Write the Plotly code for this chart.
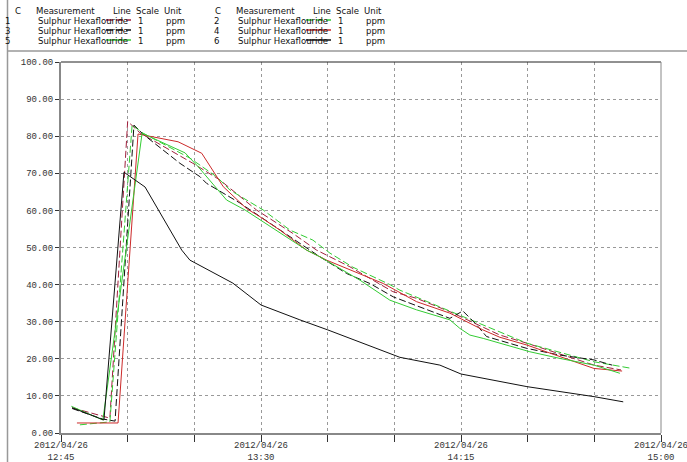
import plotly.graph_objects as go

DATE = "2012-04-26 "

# Series 1: Sulphur Hexaflouride (dark red, dashed)
s1_t = ["12:47:30", "12:54:15", "12:56:00", "13:00:00", "13:02:45", "13:14:40", "13:20:45",
        "13:29:00", "13:37:10", "13:42:30", "13:50:00", "13:59:40", "14:05:00", "14:12:30",
        "14:20:00", "14:23:45", "14:29:50", "14:44:55", "14:51:00"]
s1_v = [6.8, 4.5, 4.0, 84.0, 80.9, 72.7, 68.2, 60.1, 53.8, 49.3, 44.8, 38.1, 36.3, 32.7,
        28.5, 26.4, 24.2, 18.3, 17.0]

# Series 2: green, dashed
s2_t = ["12:49:15", "12:54:30", "12:56:00", "13:01:00", "13:03:30", "13:14:00", "13:20:05",
        "13:23:00", "13:30:30", "13:36:30", "13:41:40", "13:45:30", "13:50:40", "13:59:00",
        "14:01:15", "14:15:00", "14:29:50", "14:44:55", "14:53:00"]
s2_v = [2.2, 2.7, 3.0, 83.0, 80.8, 74.1, 69.0, 65.5, 60.1, 54.7, 52.0, 48.5, 44.7, 40.0,
        38.5, 31.6, 24.2, 19.2, 17.5]

# Series 3: black, dashed
s3_t = ["12:47:30", "12:54:15", "12:57:10", "13:01:25", "13:03:30", "13:11:45", "13:16:15",
        "13:17:45", "13:25:15", "13:34:15", "13:43:15", "13:49:15", "13:54:30", "13:59:45",
        "14:12:30", "14:15:25", "14:18:10", "14:20:45", "14:29:50", "14:37:15", "14:44:55",
        "14:49:00"]
s3_v = [6.6, 3.8, 3.2, 83.0, 80.5, 72.7, 69.1, 67.3, 62.0, 54.7, 47.5, 43.0, 40.3, 36.7,
        30.9, 32.9, 29.6, 26.0, 22.8, 21.0, 19.7, 18.3]

# Series 4: red, solid
s4_t = ["12:48:35", "12:57:50", "13:02:20", "13:11:20", "13:16:40", "13:21:30", "13:26:45",
        "13:29:45", "13:34:15", "13:40:15", "13:44:45", "13:49:15", "13:57:30", "14:05:00",
        "14:12:30", "14:19:55", "14:23:45", "14:29:50", "14:44:55", "14:51:15"]
s4_v = [2.7, 2.7, 80.6, 78.5, 75.4, 66.4, 60.5, 58.3, 54.7, 49.3, 46.6, 44.4, 40.3, 35.4,
        32.3, 27.8, 25.8, 23.7, 17.4, 16.7]

# Series 5: green, solid
s5_t = ["12:47:20", "12:54:25", "13:03:15", "13:12:55", "13:15:50", "13:22:15", "13:26:25",
        "13:40:15", "13:43:15", "13:52:15", "13:59:00", "14:05:00", "14:12:30", "14:14:45",
        "14:17:00", "14:20:00", "14:30:30", "14:37:15", "14:44:55", "14:50:45"]
s5_v = [7.2, 3.5, 80.8, 75.5, 71.8, 62.8, 60.1, 49.3, 47.5, 41.2, 35.8, 33.2, 30.5, 28.2,
        26.4, 25.5, 21.9, 20.1, 18.3, 16.1]

# Series 6: black, solid
s6_t = ["12:47:30", "12:54:40", "12:59:10", "13:03:55", "13:12:10", "13:14:00", "13:23:40",
        "13:30:00", "13:38:45", "13:45:00", "14:01:15", "14:10:15", "14:15:00", "14:20:00",
        "14:29:50", "14:44:55", "14:51:30"]
s6_v = [6.8, 3.5, 70.3, 66.3, 49.3, 46.6, 40.4, 34.5, 30.5, 27.8, 20.4, 18.3, 15.9, 14.8,
        12.5, 9.8, 8.4]

series = [
    ("1", s1_t, s1_v, "#a0203c", "7px,3px"),
    ("2", s2_t, s2_v, "#33cc33", "7px,3px"),
    ("3", s3_t, s3_v, "#111111", "7px,3px"),
    ("4", s4_t, s4_v, "#cc2a2a", "solid"),
    ("5", s5_t, s5_v, "#33cc33", "solid"),
    ("6", s6_t, s6_v, "#111111", "solid"),
]

measurement = "Sulphur Hexaflouride"
scale_txt = "1"
unit_txt = "ppm"

W, H = 687, 462
L, R, T, B = 61, 26, 62, 29
PW, PH = W - L - R, H - T - B

def px(x):
    return (x - L) / PW

def py(y):
    return (H - B - y) / PH

fig = go.Figure()
for name, ts, vs, col, dash in series:
    fig.add_trace(go.Scatter(
        x=[DATE + t for t in ts], y=vs, mode="lines", name=name,
        line=dict(color=col, width=1, dash=dash), showlegend=False))

mono = "Liberation Mono, DejaVu Sans Mono, monospace"
fig.update_xaxes(
    range=[DATE + "12:45:00", DATE + "15:00:00"],
    type="date", dtick=45 * 60 * 1000, tick0=DATE + "12:45:00",
    tickformat="%Y/%m/%d<br>%H:%M",
    ticks="outside", ticklen=7, tickcolor="#333", tickwidth=1,
    ticklabelstandoff=-5, ticklabeloverflow="allow",
    showline=True, linecolor="#888", linewidth=2,
    showgrid=True, gridcolor="#999", griddash="dot", gridwidth=1,
    minor=dict(dtick=15 * 60 * 1000, tick0=DATE + "12:45:00", ticks="outside",
               ticklen=7, tickcolor="#333", showgrid=True, gridcolor="#999",
               griddash="dot"),
    tickfont=dict(family=mono, size=9, color="#333"),
    zeroline=False, automargin=False,
)
fig.update_yaxes(
    range=[0, 100], dtick=10, tickformat=".2f",
    ticks="outside", ticklen=4, tickcolor="#333",
    showline=True, linecolor="#888", linewidth=2,
    showgrid=True, gridcolor="#999", griddash="dot", gridwidth=1,
    tickfont=dict(family=mono, size=9, color="#333"),
    zeroline=False, automargin=False,
)

shapes = [
    dict(type="line", xref="paper", yref="paper", x0=0, x1=1, y0=1, y1=1,
         line=dict(color="#222", width=1)),
    dict(type="line", xref="paper", yref="paper", x0=1, x1=1, y0=0, y1=1,
         line=dict(color="#888", width=1)),
    dict(type="line", xref="paper", yref="paper", x0=px(7.5), x1=px(7.5), y0=py(0), y1=py(H),
         line=dict(color="#999", width=1.5)),
    dict(type="line", xref="paper", yref="paper", x0=px(7.5), x1=px(W), y0=py(51), y1=py(51),
         line=dict(color="#999", width=1.5)),
]

sans = "Liberation Sans Narrow, DejaVu Sans Condensed, Liberation Sans, Arial, sans-serif"
ann = []

def text(x, y, s, anchor="left"):
    ann.append(dict(text=s, x=px(x), y=py(y), xref="paper", yref="paper",
                    showarrow=False, xanchor=anchor, yanchor="middle",
                    font=dict(family=sans, size=9.5, color="#111")))

header_y = 10
row_y = [20, 30, 40]
groups = [(13, 3, [series[0], series[2], series[4]]),
          (213, 212, [series[1], series[3], series[5]])]
for cx, dx, rows in groups:
    text(cx, header_y, "C")
    text(cx + 21, header_y, "Measurement")
    text(cx + 98, header_y, "Line")
    text(cx + 121, header_y, "Scale")
    text(cx + 149, header_y, "Unit")
    for (name, ts, vs, col, dash), ry in zip(rows, row_y):
        text(dx, ry, name)
        text(cx + 23, ry, measurement)
        shapes.append(dict(type="line", xref="paper", yref="paper",
                           x0=px(cx + 93), x1=px(cx + 118), y0=py(ry), y1=py(ry),
                           line=dict(color=col, width=1.5, dash=dash)))
        text(cx + 123, ry, scale_txt)
        text(cx + 151, ry, unit_txt)

fig.update_layout(
    width=W, height=H, margin=dict(l=L, r=R, t=T, b=B),
    paper_bgcolor="white", plot_bgcolor="white",
    shapes=shapes, annotations=ann,
)
fig.write_html("out.html")
